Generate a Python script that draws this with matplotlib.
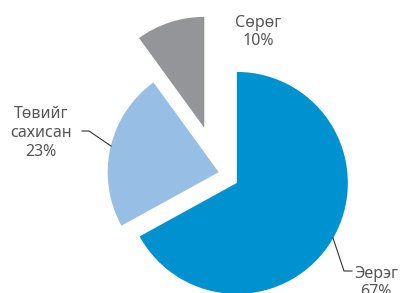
import matplotlib
matplotlib.use("Agg")
import matplotlib.pyplot as plt

labels = ["Эерэг", "Төвийг\nсахисан", "Сөрөг"]
values = [67, 23, 10]
colors = ["#0091d0", "#97bee5", "#939598"]
explode = [0.19, 0.0, 0.42]

W, H = 403, 293
R = 111.0            # pie radius in pixels
CX, CY = 218.7, 172.2  # pie centre in pixels


def px(x, y):
    # pixel position -> data position (radius = 1)
    return (x - CX) / R, (CY - y) / R


plt.rcParams['font.family'] = ['Noto Sans', 'DejaVu Sans']

fig = plt.figure(figsize=(W / 100, H / 100), dpi=100)
ax = fig.add_axes([0, 0, 1, 1])
ax.pie(values, colors=colors, explode=explode, startangle=90,
       counterclock=False, radius=1.0,
       wedgeprops=dict(linewidth=0))
x0, y1 = px(0, 0)
x1, y0 = px(W, H)
ax.set_xlim(x0, x1)
ax.set_ylim(y0, y1)
ax.set_aspect('equal')
ax.axis('off')

tcol = "#555555"
fs = 11.5

# Сөрөг
ax.text(*px(258, 32), f"{labels[2]}\n{values[2]}%", ha='center', va='center',
        fontsize=fs, color=tcol, linespacing=1.13)

# Төвийг сахисан
ax.text(*px(41, 133), f"{labels[1]}\n{values[1]}%", ha='center', va='center',
        fontsize=fs, color=tcol, linespacing=1.25)
lx, ly = zip(px(82, 131), px(89, 131), px(111, 146))
ax.plot(lx, ly, color="#333333", lw=0.8)

# Эерэг
ax.text(*px(376, 283), f"{labels[0]}\n{values[0]}%", ha='center', va='center',
        fontsize=fs, color=tcol, linespacing=1.2)
lx, ly = zip(px(333, 238), px(344, 271), px(352, 271))
ax.plot(lx, ly, color="#333333", lw=0.8)

fig.savefig("out.png", dpi=100)
